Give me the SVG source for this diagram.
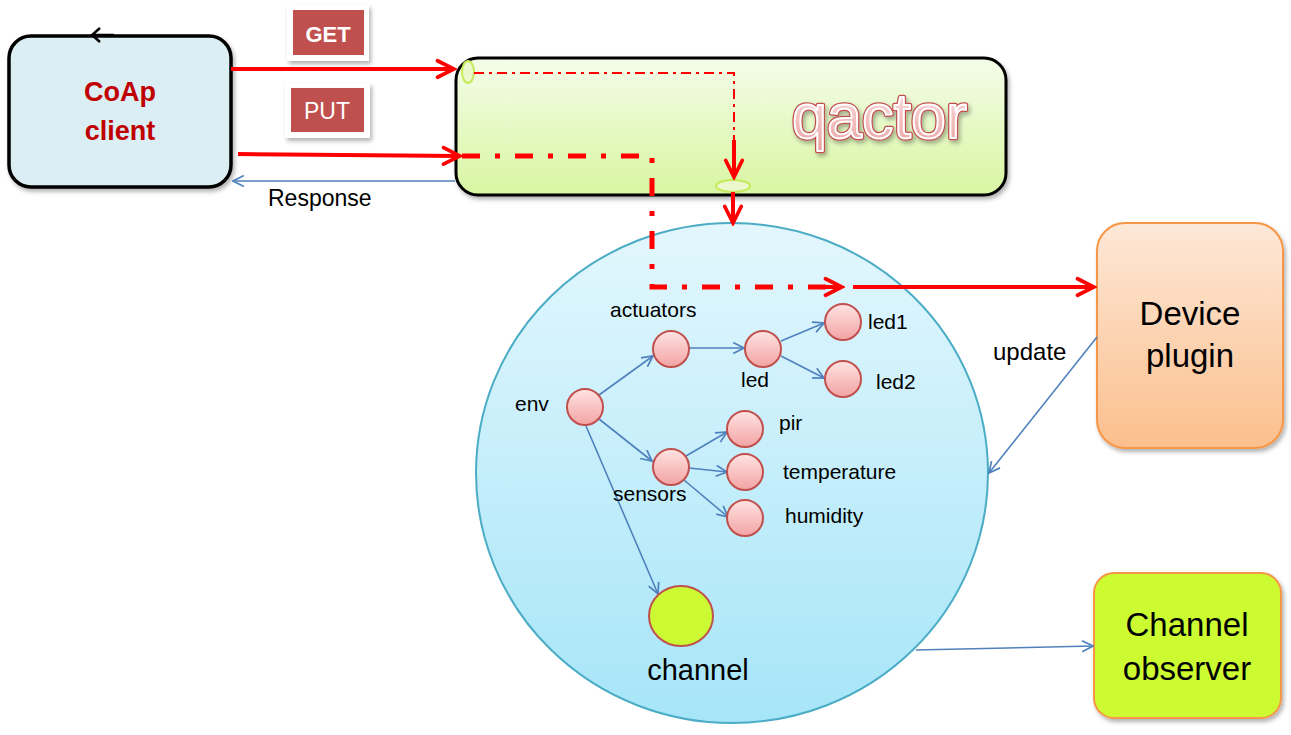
<svg xmlns="http://www.w3.org/2000/svg" width="1291" height="735" viewBox="0 0 1291 735">
<style>
  text { font-family: "Liberation Sans", Arial, sans-serif; }
  .lbl { font-size: 21px; fill: #000; }
  .big { font-size: 33px; fill: #000; text-anchor: middle; }
  .node { fill: url(#pink); stroke: #c0504d; stroke-width: 2; }
  .blue { stroke: #4f81bd; stroke-width: 1.6; fill: none; marker-end: url(#bArr); }
  .red { stroke: #ff0000; stroke-width: 4; fill: none; }
  .port { fill: #ebf8cc; stroke: #c6ea5c; stroke-width: 2; }
  .qt { font-size: 63px; }
</style>
<defs>
  <linearGradient id="pink" x1="0" y1="0" x2="0" y2="1">
    <stop offset="0" stop-color="#ffe3e3"/>
    <stop offset="1" stop-color="#f3a3a3"/>
  </linearGradient>
  <linearGradient id="qg" x1="0" y1="0" x2="0" y2="1">
    <stop offset="0" stop-color="#f4fce9"/>
    <stop offset="1" stop-color="#d8f6a2"/>
  </linearGradient>
  <linearGradient id="cg" x1="0" y1="0" x2="0" y2="1">
    <stop offset="0" stop-color="#e3f7fd"/>
    <stop offset="1" stop-color="#a6e5f8"/>
  </linearGradient>
  <linearGradient id="dg" x1="0" y1="0" x2="0" y2="1">
    <stop offset="0" stop-color="#fde8d8"/>
    <stop offset="1" stop-color="#fbbf8c"/>
  </linearGradient>
  <linearGradient id="tg" x1="0" y1="0" x2="0" y2="1">
    <stop offset="0" stop-color="#fde6e6"/>
    <stop offset="1" stop-color="#eba0a0"/>
  </linearGradient>
  <filter id="sh" x="-10%" y="-10%" width="125%" height="130%">
    <feDropShadow dx="2" dy="3" stdDeviation="2" flood-color="#000" flood-opacity="0.3"/>
  </filter>
  <marker id="bArr" viewBox="0 0 12 12" markerWidth="13" markerHeight="13" refX="11" refY="6" orient="auto" markerUnits="userSpaceOnUse">
    <path d="M1,1 L11,6 L1,11" fill="none" stroke="#4f81bd" stroke-width="1.6"/>
  </marker>
  <marker id="rArr" viewBox="0 0 24 24" markerWidth="22" markerHeight="22" refX="21" refY="12" orient="auto" markerUnits="userSpaceOnUse">
    <path d="M3,3 L21,12 L3,21" fill="none" stroke="#ff0000" stroke-width="4" stroke-linecap="round"/>
  </marker>
</defs>

<rect width="1291" height="735" fill="#ffffff"/>

<!-- CoAp client -->
<g id="coap">
  <rect x="9" y="36" width="222" height="151" rx="22" fill="#dbeef4" stroke="#000" stroke-width="3.5" filter="url(#sh)"/>
  <path d="M114,35 L92,35 M100,28 L92,35 L100,42" fill="none" stroke="#000" stroke-width="2.5"/>
  <text x="120" y="101" text-anchor="middle" font-size="27" font-weight="bold" fill="#c00000">CoAp</text>
  <text x="120" y="140" text-anchor="middle" font-size="27" font-weight="bold" fill="#c00000">client</text>
</g>

<!-- GET / PUT labels -->
<g id="get">
  <rect x="287" y="5" width="82" height="56" fill="#fff" filter="url(#sh)"/>
  <rect x="293" y="10" width="71" height="45" fill="#c0504d"/>
  <text x="328" y="42" text-anchor="middle" font-size="22" font-weight="bold" fill="#fff">GET</text>
</g>
<g id="put">
  <rect x="285" y="83" width="85" height="55" fill="#fff" filter="url(#sh)"/>
  <rect x="291" y="88" width="73" height="44" fill="#c0504d"/>
  <text x="327" y="119" text-anchor="middle" font-size="23" fill="#fff">PUT</text>
</g>

<!-- qactor -->
<g id="qactor">
  <rect x="456" y="58" width="550" height="137" rx="22" fill="url(#qg)" stroke="#000" stroke-width="3" filter="url(#sh)"/>
  <text class="qt" x="792" y="138" fill="#c0504d" stroke="#c0504d" stroke-width="4.5" stroke-linejoin="round" filter="url(#sh)">qactor</text>
  <text class="qt" x="792" y="138" fill="url(#tg)" stroke="#ffffff" stroke-width="2" stroke-linejoin="round">qactor</text>
  <ellipse class="port" cx="468" cy="72" rx="6" ry="11"/>
  <ellipse class="port" cx="733" cy="186" rx="17" ry="6"/>
</g>

<!-- channel space -->
<g id="space">
  <ellipse cx="732" cy="473" rx="256" ry="250" fill="url(#cg)" stroke="#4bacc6" stroke-width="2"/>
</g>

<!-- Device plugin -->
<g id="device">
  <rect x="1097" y="223" width="186" height="225" rx="28" fill="url(#dg)" stroke="#f79646" stroke-width="2" filter="url(#sh)"/>
  <text class="big" x="1190" y="325">Device</text>
  <text class="big" x="1190" y="367">plugin</text>
</g>

<!-- Channel observer -->
<g id="observer">
  <rect x="1094" y="573" width="187" height="145" rx="20" fill="#ccfb33" stroke="#f79646" stroke-width="2" filter="url(#sh)"/>
  <text class="big" x="1187" y="636" font-size="34">Channel</text>
  <text class="big" x="1187" y="680" font-size="34">observer</text>
</g>

<!-- connectors -->
<g id="connectors">
  <line class="red" x1="231" y1="69" x2="454" y2="69" marker-end="url(#rArr)"/>
  <line class="red" x1="238" y1="154" x2="460" y2="156" marker-end="url(#rArr)"/>
  <line class="blue" x1="455" y1="181" x2="233" y2="181"/>

  <!-- GET internal path -->
  <path d="M474,73 L734,73 L734,142" fill="none" stroke="#ff0000" stroke-width="2" stroke-dasharray="10 5 3 5"/>
  <line class="red" x1="734" y1="140" x2="734" y2="177" stroke-width="4" marker-end="url(#rArr)"/>
  <line class="red" x1="733" y1="192" x2="733" y2="223" marker-end="url(#rArr)"/>

  <!-- PUT internal path -->
  <path d="M462,156 L652,156 L652,287 L826,287" fill="none" stroke="#ff0000" stroke-width="5" stroke-dasharray="18 15 5 15"/>
  <line class="red" x1="826" y1="287" x2="842" y2="287" marker-end="url(#rArr)"/>
  <line class="red" x1="853" y1="287" x2="1094" y2="287" marker-end="url(#rArr)"/>

  <!-- resource tree -->
  <line class="blue" x1="599" y1="395" x2="653" y2="356"/>
  <line class="blue" x1="689" y1="348" x2="744" y2="348"/>
  <line class="blue" x1="781" y1="341" x2="824" y2="323"/>
  <line class="blue" x1="781" y1="356" x2="824" y2="378"/>
  <line class="blue" x1="599" y1="419" x2="652" y2="461"/>
  <line class="blue" x1="686" y1="456" x2="727" y2="432"/>
  <line class="blue" x1="689" y1="468" x2="727" y2="472"/>
  <line class="blue" x1="684" y1="480" x2="728" y2="517"/>
  <line class="blue" x1="586" y1="426" x2="658" y2="594"/>

  <line class="blue" x1="1097" y1="337" x2="989" y2="473"/>
  <line class="blue" x1="916" y1="650" x2="1093" y2="646"/>
</g>

<!-- nodes in the tree -->
<g id="env"><circle class="node" cx="585" cy="407" r="18"/><text class="lbl" x="515" y="411">env</text></g>
<g id="actuators"><circle class="node" cx="671" cy="349" r="18"/><text class="lbl" x="610" y="317">actuators</text></g>
<g id="led"><circle class="node" cx="763" cy="349" r="18"/><text class="lbl" x="741" y="387">led</text></g>
<g id="led1"><circle class="node" cx="843" cy="322" r="18"/><text class="lbl" x="868" y="329">led1</text></g>
<g id="led2"><circle class="node" cx="843" cy="379" r="18"/><text class="lbl" x="876" y="389">led2</text></g>
<g id="sensors"><circle class="node" cx="671" cy="467" r="18"/><text class="lbl" x="613" y="501">sensors</text></g>
<g id="pir"><circle class="node" cx="745" cy="429" r="18"/><text class="lbl" x="779" y="430">pir</text></g>
<g id="temperature"><circle class="node" cx="745" cy="472" r="18"/><text class="lbl" x="783" y="479">temperature</text></g>
<g id="humidity"><circle class="node" cx="745" cy="518" r="18"/><text class="lbl" x="785" y="523">humidity</text></g>
<g id="channel">
  <ellipse cx="681" cy="616" rx="32" ry="30" fill="#ccfb33" stroke="#c0504d" stroke-width="2"/>
  <text x="698" y="680" text-anchor="middle" font-size="29">channel</text>
</g>

<text x="268" y="206" font-size="23">Response</text>
<text x="993" y="360" font-size="24">update</text>
</svg>
